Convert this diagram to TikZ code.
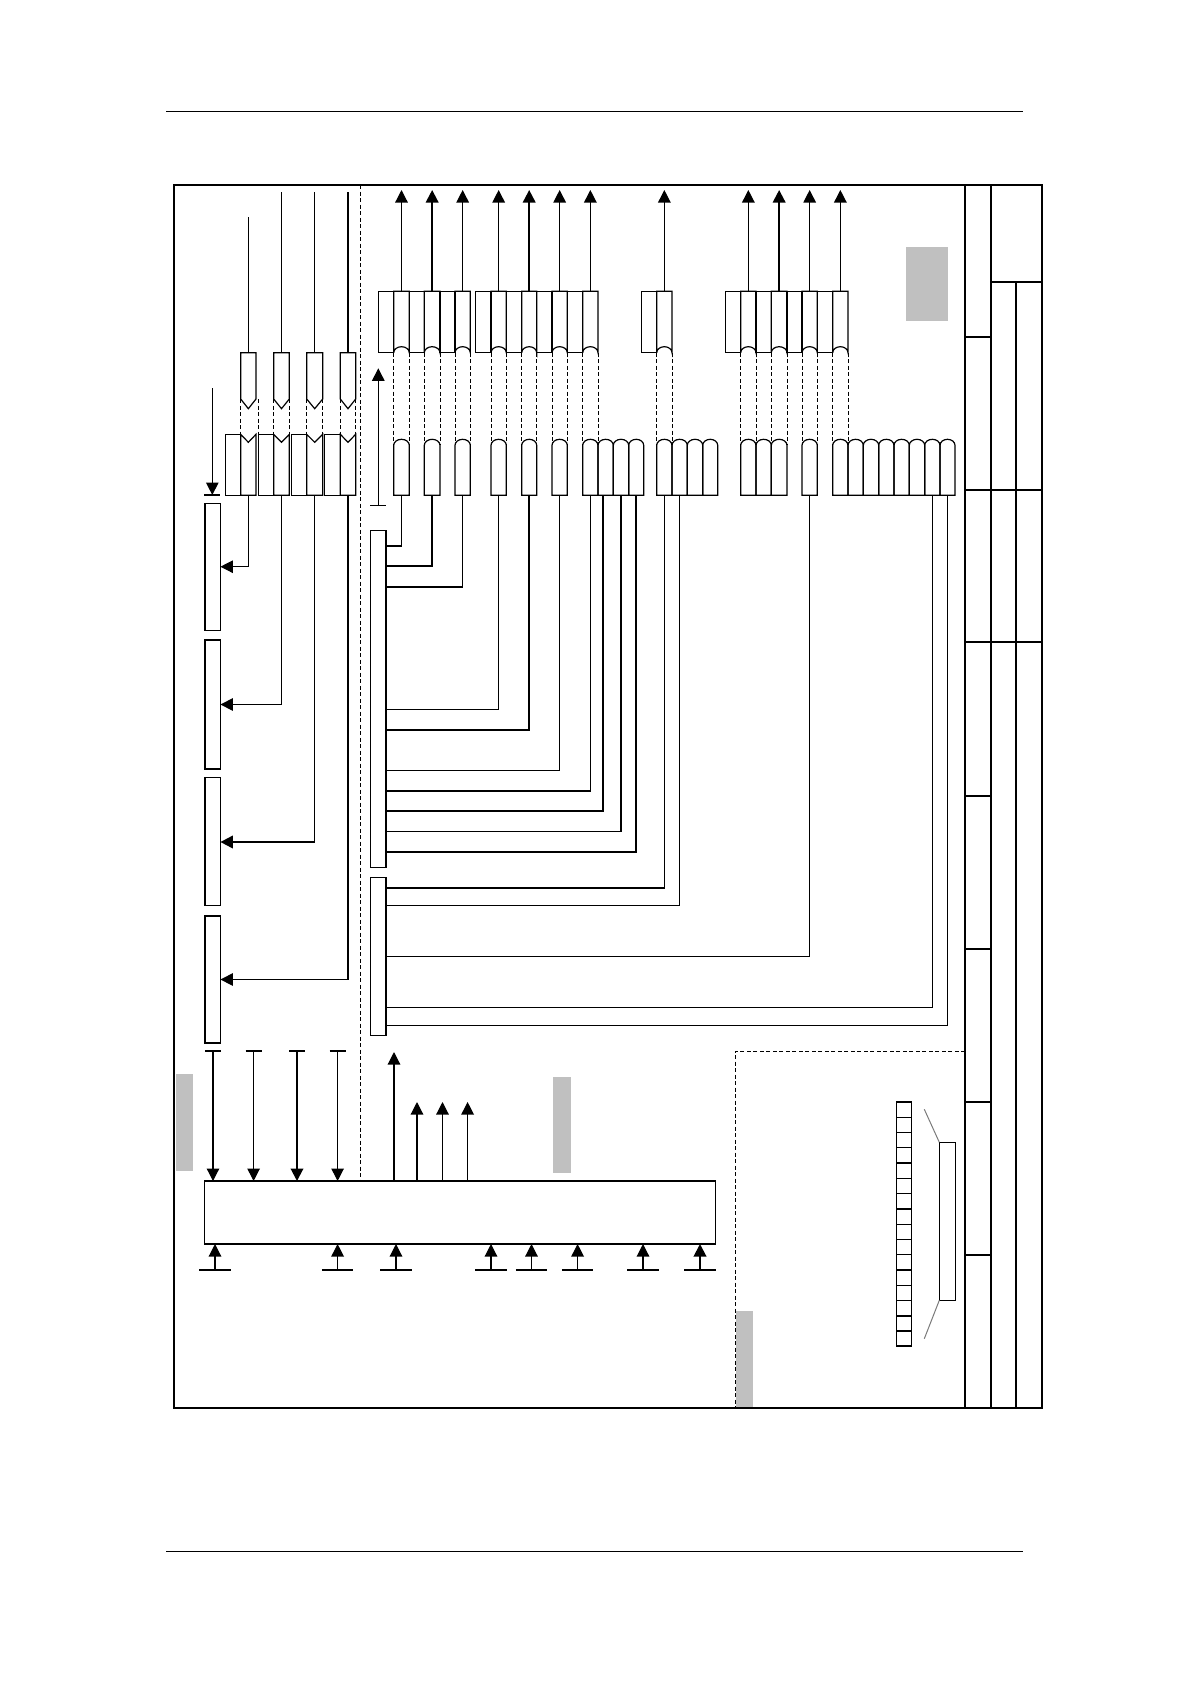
\documentclass[tikz,border=0pt]{standalone}
\usepackage{xcolor}
\usetikzlibrary{arrows.meta,calc}
\definecolor{pshade}{HTML}{C0C0C0}
\definecolor{pline}{HTML}{7A7A7A}
\begin{document}
\begin{tikzpicture}[
      x=1pt,y=-1pt,
      blk/.style={draw,line width=1.2pt,inner sep=0pt,outer sep=0pt,anchor=north west},
      hollow/.style={inner sep=0pt,outer sep=0pt,anchor=north west},
      thn/.style={line width=1.2pt},
      thk/.style={line width=2pt},
      frm/.style={line width=2pt},
      dsh/.style={line width=1pt,dash pattern=on 4pt off 2.5pt},
      tip/.style={-{Triangle[length=12.5pt,width=12.5pt]}},
      shade/.style={fill=pshade,draw=none}
    ]
      \useasboundingbox (0,0) rectangle (1190,1684);
      % page rules
      \draw[line width=1.2pt] (166,111.5) -- (1023,111.5);
      \draw[line width=1.2pt] (166,1551.5) -- (1023,1551.5);
      % shaded patches
      \fill[shade] (906,247) rectangle (948,321);
      \fill[shade] (176,1074) rectangle (193,1171);
      \fill[shade] (553,1077) rectangle (571,1173);
      \fill[shade] (736,1311) rectangle (753,1407);
      % frame and title block
      \draw[frm] (174,185) rectangle (1042,1408);
      \foreach \x in {965,991}
        \draw[frm] (\x,185) -- (\x,1408);
      \draw[frm] (1016,282) -- (1016,1408);
      \draw[frm] (991,282) -- (1042,282);
      \foreach \y in {490,642}
        \draw[frm] (965,\y) -- (1042,\y);
      \foreach \y in {337,796,949,1102,1255}
        \draw[frm] (965,\y) -- (991,\y);
      % dashed partitions
      \draw[dsh] (360,185) -- (360,1180);
      \draw[dsh] (965,1051) -- (735,1051) -- (735,1408);

      \node[blk,line width=1.5pt,minimum width=511pt,minimum height=63pt] (main) at (204.6,1181) {};

      % left boxes
      \foreach \n/\y/\h in {1/503.3/127,2/640/129,3/777.6/127.8,4/916/127}
        \node[blk,line width=1.5pt,minimum width=15.4pt,minimum height=\h pt] (lb\n) at (205,\y) {};

      % notched pairs and pens
      \foreach \n/\a/\b/\c/\t in {1/225.3/240.7/256/217,2/258.3/273.7/289.3/191.7,3/291.3/306.7/322.7/191.7,4/324.7/340.3/355.7/191.7}{
        \pgfmathsetmacro\wa{\b-\a}
        \pgfmathsetmacro\wb{\c-\b}
        \node[blk,minimum width=\wa pt,minimum height=61pt] (nl\n) at (\a,434.3) {};
        \node[hollow,minimum width=\wb pt,minimum height=61pt] (nr\n) at (\b,434.3) {};
        \draw[thn] (nr\n.north west) -- ($(nr\n.north)+(0,8)$) -- (nr\n.north east)
          -- (nr\n.south east) -- (nr\n.south west) -- cycle;
        \node[hollow,minimum width=\wb pt,minimum height=46.3pt] (pen\n) at (\b,352.7) {};
        \draw[thn] (pen\n.north west) -- (pen\n.south west) -- ($(pen\n.south)+(0,9.7)$)
          -- (pen\n.south east) -- (pen\n.north east) -- cycle;
        \coordinate (pt\n) at (pen\n.north |- 0,\t);
        \draw[thn] (pen\n.north) -- (pt\n);
        \draw[dsh] (pen\n.south west) -- (nr\n.north west);
      }
      \foreach \n in {2,3,4}
        \draw[dsh] (pen\n.south east) -- (nr\n.north east);
      \draw[dsh] (pen1.south east -| nl2.north west) -- (nl2.north west);

      % pen lines into the left boxes
      \foreach \n/\y in {1/566.7,2/704.5,4/979.5}
        \draw[thn,tip] (nr\n.south) |- (lb\n.east |- 0,\y);
      \coordinate (bend) at (nr3.south |- 0,842);
      \draw[thn] (nr3.south) -- (bend);
      \draw[thk,tip] (bend) -- (lb3.east |- bend);

      % upper cells
      \foreach \n/\a/\b/\c/\s in {1/378.3/393.7/409.3/thn,2/409.3/424.3/440/thk,3/440/455/470.3/thn,
          4/475.3/491/506.3/thn,5/506.3/521.7/536.7/thk,6/536.7/552/567.3/thn,7/567.3/582.7/598/thn,
          8/641.3/656.7/672/thn,9/725.3/740.7/756/thn,10/756/771.3/787/thk,11/787/802/817.3/thn,12/817.3/832.7/848/thn}{
        \pgfmathsetmacro\wa{\b-\a}
        \pgfmathsetmacro\wb{\c-\b}
        \pgfmathsetmacro\rb{\wb/2}
        \node[blk,minimum width=\wa pt,minimum height=61.4pt] (ul\n) at (\a,291.3) {};
        \node[hollow,minimum width=\wb pt,minimum height=61.4pt] (ur\n) at (\b,291.3) {};
        \draw[thn] (ur\n.south west) -- (ur\n.north west) -- (ur\n.north east) -- (ur\n.south east)
          arc[start angle=0,end angle=180,x radius=\rb pt,y radius=6pt];
        \coordinate (up\n) at (ur\n.north |- 0,190);
        \draw[\s,tip] (ur\n.north) -- (up\n);
      }

      % lower cells
      \foreach \n/\a/\b in {d1/393.7/409.3,d2/424.3/440,d3/455/470.3,d4/491/506.3,d5/521.7/536.7,d6/552/567.3,
          d7/582.7/598,e1/598/613.3,e2/613.3/628.7,e3/628.7/643.7,
          d8/656.7/672,e4/672/687.3,e5/687.3/702.7,e6/702.7/717.7,
          d9/740.7/756,e7/756/771.3,d10/771.3/787,d11/802/817.3,
          d12/832.7/848,e8/848/863.3,e9/863.3/878.7,e10/878.7/894,e11/894/909.3,e12/909.3/924.7,e13/924.7/940,e14/940/955}{
        \pgfmathsetmacro\wb{\b-\a}
        \pgfmathsetmacro\rb{\wb/2}
        \node[hollow,minimum width=\wb pt,minimum height=56pt] (\n) at (\a,439.3) {};
        \draw[thn] (\n.south west) -- ($(\n.north west)+(0,6)$)
          arc[start angle=180,end angle=0,x radius=\rb pt,y radius=6pt] -- (\n.south east) -- cycle;
      }
      \foreach \n in {1,...,12}{
        \draw[dsh] (ur\n.south west) -- ($(d\n.north west)+(0,6)$);
        \draw[dsh] (ur\n.south east) -- ($(d\n.north east)+(0,6)$);
      }

      % buses
      \node[blk,line width=1.5pt,minimum width=15.4pt,minimum height=336.6pt] (busa) at (370.7,530.7) {};
      \node[blk,line width=1.5pt,minimum width=15.4pt,minimum height=158pt] (busb) at (370.7,877.3) {};
      \foreach \n/\y/\s in {d1/546/thn,d2/566.3/thk,d3/587/thn,d4/709.3/thn,d5/729.7/thk,d6/770.3/thn,d7/791/thn,e2/831.7/thn,e3/852/thk}
        \draw[\s] (\n.south) |- (busa.east |- 0,\y);
      \draw[thk] ([xshift=-2.7pt]e1.south) |- (busa.east |- 0,811.3);
      \foreach \n/\y/\s in {d8/888/thn,e4/905.7/thn,d11/956.7/thn,e13/1007.7/thn,e14/1025.7/thn}
        \draw[\s] (\n.south) |- (busb.east |- 0,\y);

      % side arrows
      \coordinate (ina) at (212.3,388);
      \coordinate (inb) at (212.3,495);
      \draw[thn,tip] (ina) -- (inb);
      \draw[thn] ([xshift=-8pt]inb) -- ([xshift=8pt]inb);
      \coordinate (rng) at (378.3,505.3);
      \coordinate (rnt) at (378.3,368.3);
      \draw[thn,tip] (rng) -- (rnt);
      \draw[thn] ([xshift=-8pt]rng) -- ([xshift=8pt]rng);

      % arrows into the main box
      \foreach \n/\x/\s in {1/213/thn,2/253.6/thn,3/297/thk,4/337.6/thn}{
        \coordinate (bar\n) at (\x,1051);
        \draw[\s,tip] (bar\n) -- (bar\n |- main.north);
        \draw[thk] ([xshift=-8pt]bar\n) -- ([xshift=8pt]bar\n);
      }
      \foreach \n/\x/\t in {1/394/1052,2/417/1102,3/442.5/1102,4/467.6/1102}{
        \coordinate (out\n) at (\x,\t);
        \draw[thn,tip] (out\n |- main.north) -- (out\n);
      }
      \foreach \n/\x/\s in {1/215/thn,2/337.6/thn,3/396/thn,4/491/thn,5/531.5/thn,6/577.6/thn,7/643/thn,8/700/thk}{
        \coordinate (pin\n) at (\x,1270);
        \draw[\s,tip] (pin\n) -- (pin\n |- main.south);
        \draw[thk] ([xshift=-15.7pt]pin\n) -- ([xshift=15.7pt]pin\n);
      }

      % strip of cells
      \foreach \n/\y/\h in {1/1101.7/15.7,2/1117.4/15,3/1132.4/15,4/1147.4/15.3,5/1162.7/15.6,6/1178.3/15,7/1193.3/15.7,8/1209/15.3,
          9/1224.3/15,10/1239.3/15,11/1254.3/15.7,12/1270/15.3,13/1285.3/15,14/1300.3/15.7,15/1316/15,16/1331/15}
        \node[blk,minimum width=15.4pt,minimum height=\h pt] (st\n) at (896.3,\y) {};
      \foreach \n in {1,5,8,12,15}
        \draw[thk] (st\n.north west) -- (st\n.north east);
      \node[blk,line width=1.5pt,minimum width=16pt,minimum height=158pt] (wide) at (939.3,1142.3) {};
      \coordinate (wa) at (924.3,1109.3);
      \coordinate (wb) at (924.3,1338.7);
      \draw[pline,line width=1pt] (wide.north west) -- (wa);
      \draw[pline,line width=1pt] (wide.south west) -- (wb);
    \end{tikzpicture}
\end{document}
